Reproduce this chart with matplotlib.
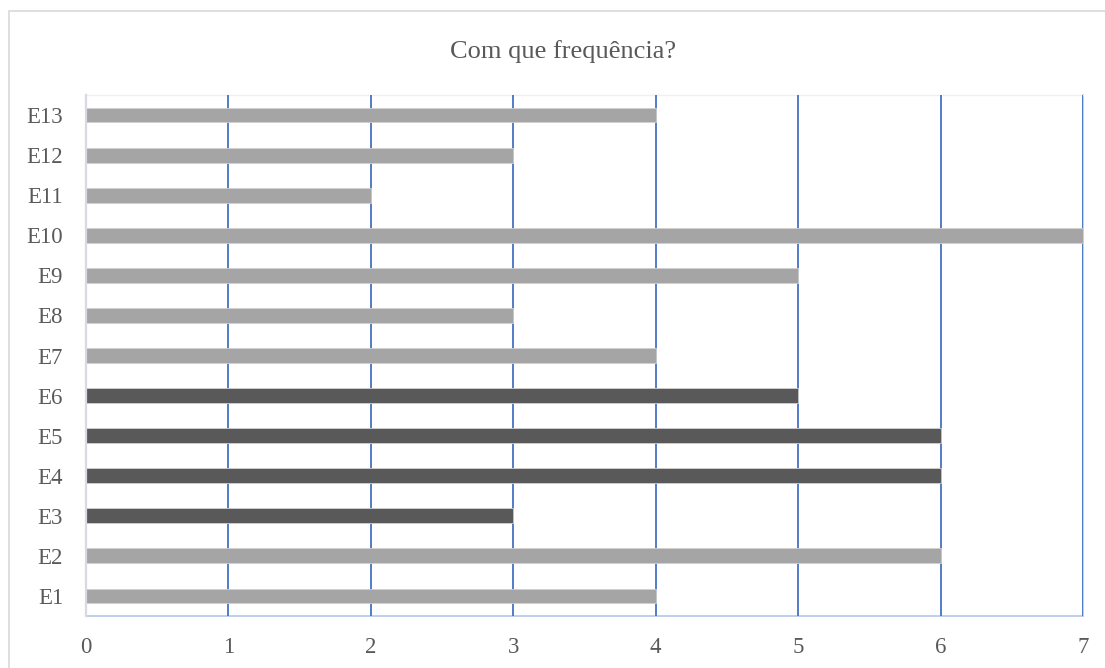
import matplotlib
matplotlib.use("Agg")
import matplotlib.pyplot as plt
from matplotlib.patches import Rectangle

categories = ["E1", "E2", "E3", "E4", "E5", "E6", "E7", "E8", "E9", "E10", "E11", "E12", "E13"]
values = [4, 6, 3, 6, 6, 5, 4, 3, 5, 7, 2, 3, 4]
highlight = ["E3", "E4", "E5", "E6"]
x_ticks = [0, 1, 2, 3, 4, 5, 6, 7]
title = "Com que frequência?"

plt.rcParams['font.family'] = ['Liberation Serif', 'DejaVu Serif']

fig = plt.figure(figsize=(11.05, 6.68), dpi=100)
fig.patches.append(Rectangle((9/1105, -0.05), 1.1, 1 - 11/668 + 0.05, transform=fig.transFigure,
                             fill=False, edgecolor='#D9D9D9', linewidth=1.2))
ax = fig.add_axes([86/1105, 52/668, (1083-86)/1105, (616-95)/668])

colors = ['#595959' if c in highlight else '#A5A5A5' for c in categories]
ypos = list(range(len(categories)))
ax.barh(ypos, values, height=0.37, color=colors, edgecolor='#D0D0D0', linewidth=0.6, zorder=3)

ax.set_xlim(0, 7)
ax.set_ylim(-0.5, len(categories) - 0.5)
ax.set_xticks(x_ticks)
ax.set_yticks(ypos)
ax.set_yticklabels(categories)
ax.xaxis.grid(True, color='#4472C4', linewidth=1.3, zorder=1)
ax.set_axisbelow(False)
ax.spines['top'].set_color('#EFEFF8')
ax.spines['top'].set_linewidth(1.0)
ax.spines['right'].set_color('#B4C7E7')
ax.spines['right'].set_linewidth(1.2)
ax.spines['left'].set_color('#D9D9E6')
ax.spines['left'].set_linewidth(1.6)
ax.spines['left'].set_zorder(5)
ax.spines['bottom'].set_color('#B4C7E7')
ax.spines['bottom'].set_linewidth(1.2)
ax.tick_params(length=0, labelsize=16.5, labelcolor='#595959')
ax.tick_params(axis='x', pad=15)
ax.tick_params(axis='y', pad=16.5)

fig.text(563/1105, 1 - 52/668, title, ha='center', va='center', fontsize=19, color='#595959')

fig.savefig('out.png', dpi=100)
